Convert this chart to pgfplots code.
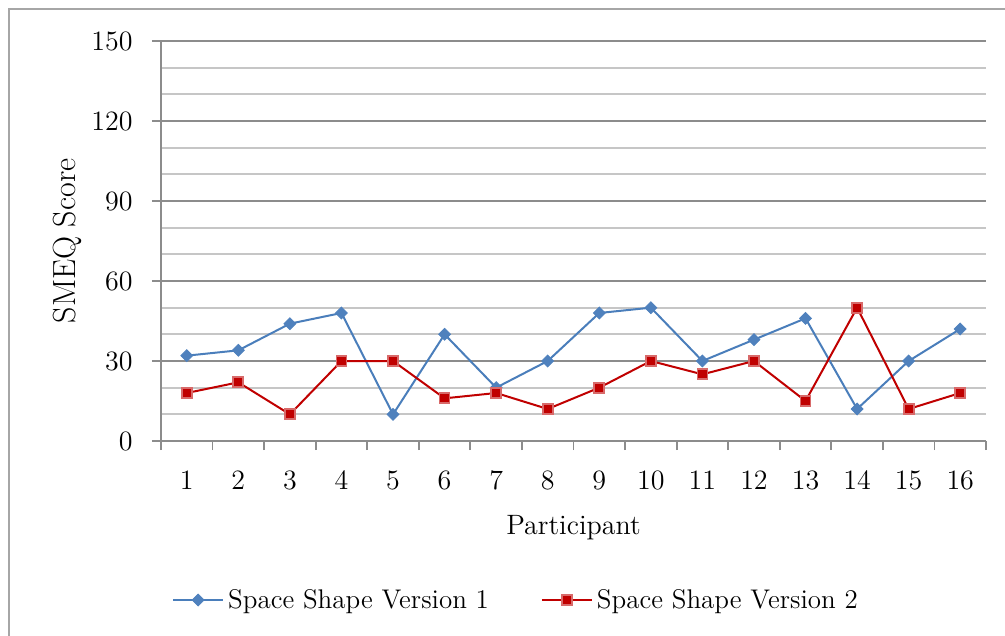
\documentclass[border=0pt]{standalone}
\usepackage{pgfplots}
\pgfplotsset{compat=1.18}

\definecolor{lineblue}{HTML}{4A7EBB}
\definecolor{markblue}{HTML}{4F81BD}
\definecolor{linered}{HTML}{C00000}
\definecolor{markrededge}{HTML}{D86A6A}
\definecolor{gridmajor}{HTML}{8C8C8C}
\definecolor{gridminor}{HTML}{C6C6C6}
\definecolor{framegray}{HTML}{A6A6A6}

\begin{document}
\begin{tikzpicture}
\begin{axis}[
  at={(0,0)}, anchor=south west,
  scale only axis, width=412.5pt, height=200pt,
  xmin=0.5, xmax=16.5, ymin=0, ymax=150,
  axis lines*=left,
  axis line style={gridmajor, line width=0.9pt},
  xtick={0.5,1.5,...,16.5},
  xticklabels={1,2,3,4,5,6,7,8,9,10,11,12,13,14,15,16},
  x tick label as interval,
  ytick={0,30,...,150},
  minor y tick num=2,
  ymajorgrids, yminorgrids,
  major grid style={gridmajor, line width=0.9pt},
  minor grid style={gridminor, line width=0.9pt},
  tick align=outside,
  major tick length=4.5pt, minor tick length=0pt,
  tick style={gridmajor, line width=0.9pt},
  ticklabel style={font=\fontsize{14}{16}\selectfont},
  /pgf/number format/assume math mode=true,
  yticklabel style={anchor=east, inner sep=0pt, xshift=-9.5pt},
  xticklabel style={anchor=base, inner sep=0pt, yshift=-19.5pt},
  xlabel={Participant},
  xlabel style={font=\fontsize{14}{16}\selectfont, at={(axis description cs:0.5,-0.2325)}, anchor=base},
  ylabel={SMEQ Score},
  ylabel style={font=\fontsize{16}{18}\selectfont, at={(axis description cs:-0.1042,0.5)}, anchor=base},
  legend columns=2,
  legend image code/.code={%
    \draw[mark repeat=2, mark phase=2, #1]
      plot coordinates {(0pt,0pt) (12.5pt,0pt) (25pt,0pt)};},
  legend style={at={(axis description cs:0.4315,-0.3975)}, anchor=center,
    draw=none, fill=none, font=\fontsize{13.5}{16}\selectfont,
    /tikz/every even column/.append style={column sep=24pt}},
]
\addplot[lineblue, line width=1pt, mark=square*,
  mark options={rotate=45, fill=markblue, draw=markblue, line width=0.4pt}, mark size=2.1pt]
  coordinates {
  (1,32) (2,34) (3,44) (4,48) (5,10) (6,40) (7,20) (8,30)
  (9,48) (10,50) (11,30) (12,38) (13,46) (14,12) (15,30) (16,42)
  };
\addlegendentry{Space Shape Version 1}
\addplot[linered, line width=1pt, mark=square*,
  mark options={fill=linered, draw=markrededge, line width=0.9pt}, mark size=2.5pt]
  coordinates {
  (1,18) (2,22) (3,10) (4,30) (5,30) (6,16) (7,18) (8,12)
  (9,20) (10,30) (11,25) (12,30) (13,15) (14,50) (15,12) (16,18)
  };
\addlegendentry{Space Shape Version 2}
\end{axis}
% chart area border
\draw[framegray, line width=1pt] (-76pt,-140pt) rectangle (450pt,216pt);
\pgfresetboundingbox
\useasboundingbox (-80.5pt,-97.5pt) rectangle (422pt,220.5pt);
\end{tikzpicture}
\end{document}
